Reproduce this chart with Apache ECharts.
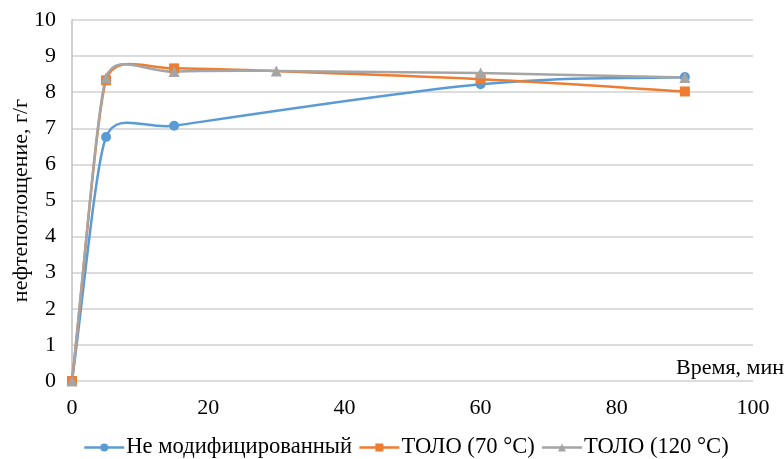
<!DOCTYPE html>
<html>
<head>
<meta charset="utf-8">
<script src="https://cdn.jsdelivr.net/npm/echarts@6/dist/echarts.min.js"></script>
<style>
	html, body { margin: 0; padding: 0; background: #fff; }
	#container { width: 784px; height: 459px; }
</style>
</head>
<body>
<div id="container"></div>
<script>
	// данные (время, мин / нефтепоглощение, г/г)
	var seriesNames = ['Не модифицированный', 'ТОЛО (70 °C)', 'ТОЛО (120 °C)'];
	var seriesColors = ['#5B9BD5', '#ED7D31', '#A5A5A5'];
	var seriesSymbols = ['circle', 'rect', 'triangle'];

	var timeNotMod = [0, 5, 15, 60, 90];
	var valNotMod = [0, 6.76, 7.07, 8.22, 8.42];

	var time70 = [0, 5, 15, 60, 90];
	var val70 = [0, 8.33, 8.66, 8.36, 8.02];

	var time120 = [0, 5, 15, 30, 60, 90];
	var val120 = [0, 8.40, 8.57, 8.59, 8.53, 8.41];

	var xTicks = [0, 20, 40, 60, 80, 100];
	var yTicks = [0, 1, 2, 3, 4, 5, 6, 7, 8, 9, 10];

	function pairs(xs, ys){
		var out = [];
		for(var i = 0; i < xs.length; i++){
			out.push([xs[i], ys[i]]);
		}
		return out;
	}

	var font = 'Liberation Serif, Times New Roman, serif';
	var fs = 22;
	var allData = [pairs(timeNotMod, valNotMod), pairs(time70, val70), pairs(time120, val120)];

	//сглаживание как в Excel (с выбросом над точкой)
	function smoothPath(pts, k){
		var d = 'M' + pts[0][0] + ' ' + pts[0][1];
		var n = pts.length;
		function dist(a, b){ return Math.sqrt((a[0]-b[0])*(a[0]-b[0]) + (a[1]-b[1])*(a[1]-b[1])); }
		function tangent(i){
			var a = pts[Math.max(i - 1, 0)], b = pts[Math.min(i + 1, n - 1)];
			var l = dist(a, b) || 1;
			return [(b[0]-a[0]) / l, (b[1]-a[1]) / l];
		}
		for(var i = 0; i < n - 1; i++){
			var p1 = pts[i], p2 = pts[i + 1];
			var seg = dist(p1, p2);
			var t1 = tangent(i), t2 = tangent(i + 1);
			var m1 = i == 0 ? seg * 0.3 : Math.min(seg, dist(p1, pts[i - 1])) * k;
			var m2 = i + 1 == n - 1 ? seg * 0.3 : Math.min(seg, dist(p2, pts[i + 2])) * k;
			var c1 = [p1[0] + t1[0] * m1, p1[1] + t1[1] * m1];
			var c2 = [p2[0] - t2[0] * m2, p2[1] - t2[1] * m2];
			d += ' C' + c1[0] + ' ' + c1[1] + ' ' + c2[0] + ' ' + c2[1] + ' ' + p2[0] + ' ' + p2[1];
		}
		return d;
	}

	var series = [];
	//маркеры
	for(var i = 0; i < seriesNames.length; i++){
		series.push({
			name: seriesNames[i],
			type: 'line',
			data: allData[i],
			symbol: seriesSymbols[i],
			symbolSize: i == 2 ? 11 : 10,
			showAllSymbol: true,
			lineStyle: { color: seriesColors[i], width: 0 },
			itemStyle: { color: seriesColors[i] },
			z: 4 + i
		});
	}
	//сглаженные линии
	for(var j = 0; j < seriesNames.length; j++){
		(function(idx){
			series.push({
				name: seriesNames[idx],
				type: 'custom',
				data: allData[idx],
				encode: { x: 0, y: 1 },
				z: 1 + idx,
				silent: true,
				renderItem: function(params, api){
					if(params.dataIndex !== 0) return null;
					var pts = allData[idx].map(function(p){ return api.coord(p); });
					return {
						type: 'path',
						shape: { pathData: smoothPath(pts, 0.42) },
						style: { stroke: seriesColors[idx], lineWidth: 2.5, fill: null }
					};
				}
			});
		})(j);
	}

	var myChart = echarts.init(document.getElementById('container'));
	var option = {
		animation: false,
		grid: {
			left: 72,
			right: 31,
			top: 20,
			bottom: 78,
			outerBoundsMode: 'none'
		},
		legend: {
			bottom: -5,
			left: 78,
			itemWidth: 40,
			itemHeight: 10,
			itemGap: 6,
			textStyle: { fontFamily: font, fontSize: 22.6, color: '#000', padding: [0, 0, 0, -3] },
			data: seriesNames.map(function(n, i){
				return { name: n, lineStyle: { color: seriesColors[i], width: 2.5, opacity: 1 } };
			})
		},
		xAxis: {
			type: 'value',
			min: xTicks[0],
			max: xTicks[xTicks.length - 1],
			interval: 20,
			name: 'Время, мин',
			nameLocation: 'end',
			nameGap: 31,
			nameTextStyle: {
				fontFamily: font, fontSize: fs, color: '#000',
				align: 'right', verticalAlign: 'bottom', padding: [0, 0, 2, 0]
			},
			axisLine: { show: false },
			axisTick: { show: false },
			splitLine: { show: false },
			axisLabel: { fontFamily: font, fontSize: fs, color: '#000', margin: 16 }
		},
		yAxis: {
			type: 'value',
			min: yTicks[0],
			max: yTicks[yTicks.length - 1],
			interval: 1,
			name: 'нефтепоглощение, г/г',
			nameLocation: 'middle',
			nameGap: 40,
			nameMoveOverlap: false,
			nameTextStyle: { fontFamily: font, fontSize: fs, color: '#000' },
			axisLine: { show: true, lineStyle: { color: '#BFBFBF', width: 1.5 } },
			axisTick: { show: false },
			splitLine: { show: true, lineStyle: { color: '#D0D0D0', width: 1.5 } },
			axisLabel: { fontFamily: font, fontSize: fs, color: '#000', margin: 16 }
		},
		series: series
	};
	myChart.setOption(option);
</script>
</body>
</html>
